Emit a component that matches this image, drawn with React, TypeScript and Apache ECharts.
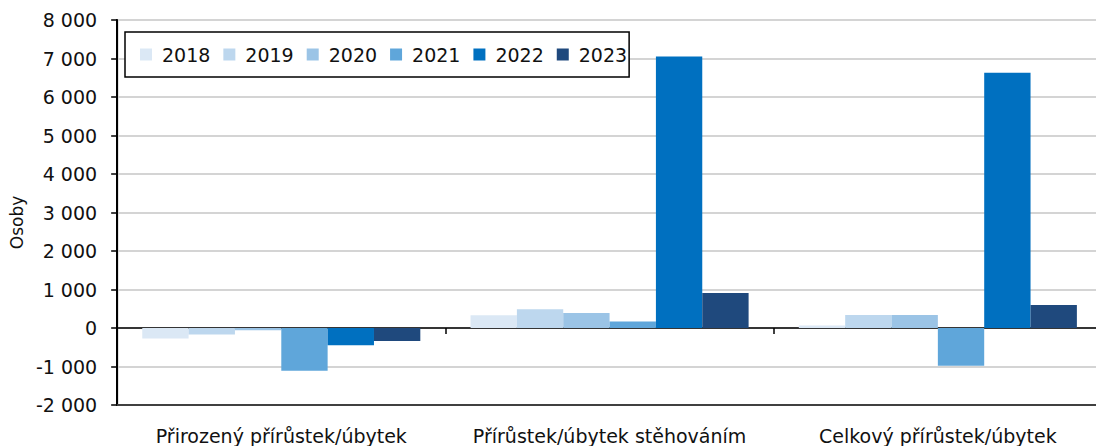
import React, { useEffect, useRef } from "react";
import * as echarts from "echarts";

const categories = ["Přirozený přírůstek/úbytek", "Přírůstek/úbytek stěhováním", "Celkový přírůstek/úbytek"];
const years = ["2018", "2019", "2020", "2021", "2022", "2023"];
const v2018 = [-270, 330, 65];
const v2019 = [-170, 490, 340];
const v2020 = [-60, 390, 335];
const v2021 = [-1110, 170, -980];
const v2022 = [-450, 7050, 6630];
const v2023 = [-340, 910, 600];
const seriesValues = [v2018, v2019, v2020, v2021, v2022, v2023];
const colors = ["#dbe8f5", "#bdd7ee", "#9bc4e6", "#5fa6da", "#0070c0", "#1f497d"];

const FONT = "DejaVu Sans";

function fmt(v: number): string {
  const s = Math.abs(v).toString();
  const out = s.replace(/\B(?=(\d{3})+(?!\d))/g, " ");
  return (v < 0 ? "-" : "") + out;
}

export default function App() {
  const ref = useRef<HTMLDivElement>(null);
  useEffect(() => {
    if (!ref.current) return;
    const chart = echarts.init(ref.current, null, { renderer: "svg" });
    chart.setOption({
      animation: false,
      backgroundColor: "#ffffff",
      textStyle: { fontFamily: FONT },
      grid: {
        left: 113,
        right: 10,
        top: 20,
        bottom: 41,
        show: true,
        borderColor: "#404040",
        borderWidth: 2,
      },
      legend: {
        left: 125,
        top: 32,
        orient: "horizontal",
        data: years,
        itemWidth: 12,
        itemHeight: 12,
        itemGap: 13,
        icon: "rect",
        padding: [13, 2, 13, 15],
        borderColor: "#000000",
        borderWidth: 1.5,
        backgroundColor: "#ffffff",
        textStyle: { fontFamily: FONT, fontSize: 19, color: "#111111", padding: [0, 0, 0, 5] },
      },
      xAxis: [
        {
          type: "category",
          data: categories,
          position: "bottom",
          axisLine: { show: true, onZero: false, lineStyle: { color: "#404040", width: 2 } },
          axisTick: { show: false },
          axisLabel: { fontFamily: FONT, fontSize: 19, color: "#111111", margin: 21, interval: 0 },
          splitLine: { show: false },
        },
        {
          type: "category",
          data: categories,
          position: "top",
          axisLine: { show: true, onZero: true, lineStyle: { color: "#000000", width: 1.5 } },
          axisTick: { show: true, inside: true, length: 6, lineStyle: { color: "#000000", width: 1.5 } },
          axisLabel: { show: false },
          splitLine: { show: false },
        },
      ],
      yAxis: {
        type: "value",
        min: -2000,
        max: 8000,
        interval: 1000,
        name: "Osoby",
        nameLocation: "middle",
        nameGap: 88,
        nameTextStyle: { fontFamily: FONT, fontSize: 17, color: "#111111", padding: [0, 20, 0, 0] },
        axisLine: { show: true, lineStyle: { color: "#000000", width: 2 } },
        axisTick: { show: true, length: 6, lineStyle: { color: "#000000", width: 1.5 } },
        axisLabel: {
          fontFamily: FONT,
          fontSize: 19,
          color: "#111111",
          margin: 20,
          formatter: (v: number) => fmt(v),
        },
        splitLine: { show: true, lineStyle: { color: "#d4d4d4", width: 2 } },
      },
      series: years.map((y, i) => ({
        name: y,
        type: "bar",
        xAxisIndex: 0,
        data: seriesValues[i],
        barGap: "0%",
        barCategoryGap: "15.3%",
        itemStyle: { color: colors[i] },
      })),
    });
    return () => chart.dispose();
  }, []);
  return (
    <div style={{ position: "fixed", left: 0, top: 0, width: 1096, height: 446, overflow: "hidden", background: "#fff" }}>
      <div ref={ref} style={{ width: 1112, height: 446 }} />
    </div>
  );
}
